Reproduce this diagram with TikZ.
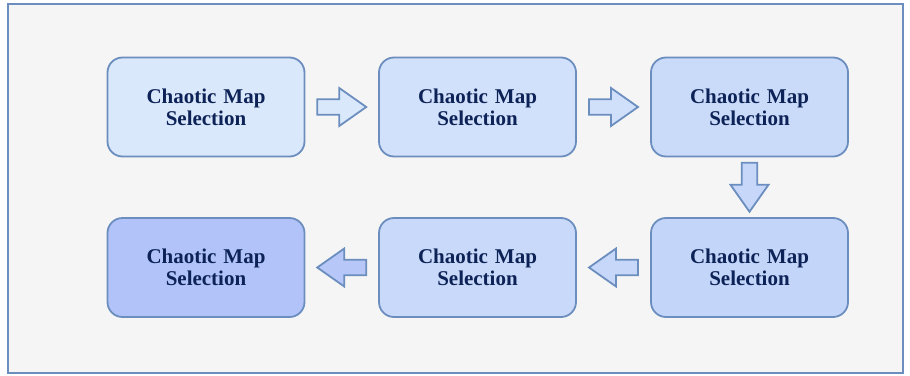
\documentclass[tikz,border=0pt]{standalone}
\usepackage{fontspec}
\setmainfont{Liberation Serif}[BoldFont={Liberation Serif Bold}]
\usetikzlibrary{calc}
\definecolor{frameS}{HTML}{6C8EBF}
\definecolor{bgF}{HTML}{F5F5F5}
\definecolor{txt}{HTML}{0D2357}
\definecolor{cA}{HTML}{DAE8FC}
\definecolor{cB}{HTML}{D2E1FB}
\definecolor{cC}{HTML}{CADBFA}
\definecolor{cD}{HTML}{C3D5F9}
\definecolor{cE}{HTML}{C8D9F9}
\definecolor{cF}{HTML}{B1C3F9}
\definecolor{aA}{HTML}{DAE8FC}
\definecolor{aB}{HTML}{D0E0FB}
\definecolor{aC}{HTML}{C6D7F9}
\definecolor{aD}{HTML}{C6D7F9}
\definecolor{aE}{HTML}{B6C7F8}
\tikzset{
  stage/.style={draw=frameS, line width=1.8pt, rounded corners=15pt, minimum width=197pt, minimum height=99pt, inner sep=0pt, text width=190pt, align=center, text=txt, font=\fontsize{21}{22}\selectfont\bfseries},
  blockarrow/.pic={\draw[pic actions] (-24.5,-7.8)--(-2.5,-7.8)--(-2.5,-19)--(24.5,0)--(-2.5,19)--(-2.5,7.8)--(-24.5,7.8)--cycle;},
  arr/.style={draw=frameS, line width=1.8pt, line join=miter}
}
\begin{document}
\begin{tikzpicture}[x=1pt,y=-1pt]
\useasboundingbox (0,0) rectangle (910,375);
\draw[draw=frameS, fill=bgF, line width=2pt] (7.5,3.5) rectangle (903,372.5);
\node[stage, fill=cA] (b1) at (206,107) {Chaotic Map\\Selection};
\node[stage, fill=cB] (b2) at (477.5,107) {Chaotic Map\\Selection};
\node[stage, fill=cC] (b3) at (749.5,107) {Chaotic Map\\Selection};
\node[stage, fill=cD] (b4) at (749.5,267.5) {Chaotic Map\\Selection};
\node[stage, fill=cE] (b5) at (477.5,267.5) {Chaotic Map\\Selection};
\node[stage, fill=cF] (b6) at (206,267.5) {Chaotic Map\\Selection};
\pic[arr, fill=aA] at ($(b1.east)!0.5!(b2.west)$) {blockarrow};
\pic[arr, fill=aB] at ($(b2.east)!0.5!(b3.west)$) {blockarrow};
\pic[arr, fill=aC, rotate=-90] at ($(b3.south)!0.5!(b4.north)$) {blockarrow};
\pic[arr, fill=aD, rotate=180] at ($(b4.west)!0.5!(b5.east)$) {blockarrow};
\pic[arr, fill=aE, rotate=180] at ($(b5.west)!0.5!(b6.east)$) {blockarrow};
\end{tikzpicture}
\end{document}
